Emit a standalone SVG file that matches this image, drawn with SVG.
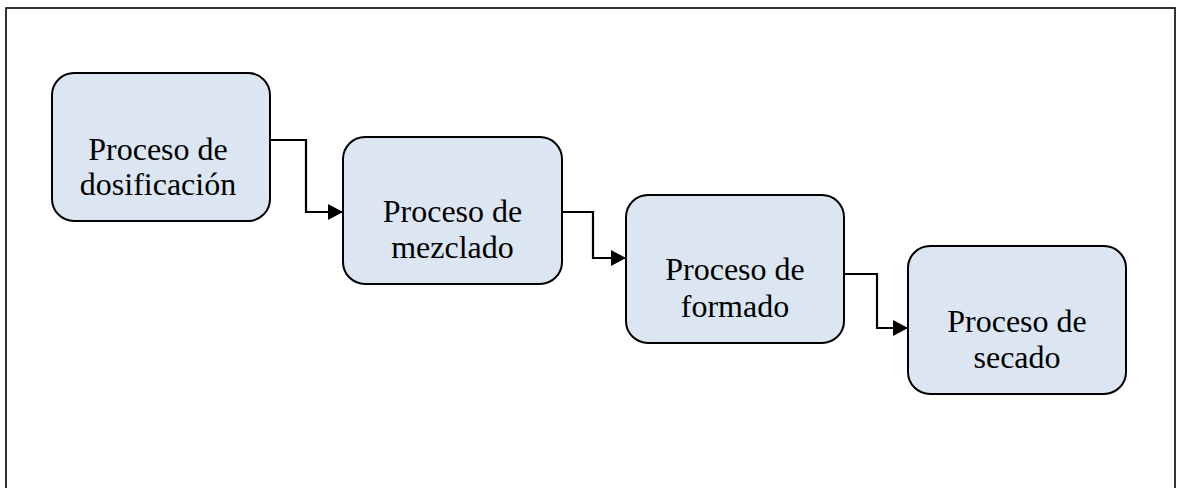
<svg xmlns="http://www.w3.org/2000/svg" width="1182" height="488" viewBox="0 0 1182 488">
<style>
.node rect{fill:#DCE6F2;stroke:#000;stroke-width:2}
.conn{fill:none;stroke:#000;stroke-width:2.2}
</style>
<defs>
<marker id="arr" markerUnits="userSpaceOnUse" markerWidth="17" markerHeight="17" refX="15" refY="8" orient="auto">
<path d="M0,0 L15,8 L0,16 Z" fill="#000"/>
</marker>
</defs>
<rect x="6" y="8" width="1169" height="490" fill="#fff" stroke="#000" stroke-width="1.6"/>
<g id="connectors">
<path class="conn" d="M270,140 H306 V212 H343" marker-end="url(#arr)"/>
<path class="conn" d="M562,212 H593 V258 H626" marker-end="url(#arr)"/>
<path class="conn" d="M844,274 H877 V328 H908" marker-end="url(#arr)"/>
</g>
<g font-family="'Liberation Serif', 'Times New Roman', Times, serif" font-size="32" fill="#000" text-anchor="middle">
<g id="n1" class="node">
<rect x="52" y="73" width="218" height="148" rx="22"/>
<text x="158" y="160">Proceso de</text>
<text x="158" y="195">dosificación</text>
</g>
<g id="n2" class="node">
<rect x="343" y="137" width="219" height="147" rx="22"/>
<text x="452.5" y="222">Proceso de</text>
<text x="452.5" y="258">mezclado</text>
</g>
<g id="n3" class="node">
<rect x="626" y="195" width="218" height="148" rx="22"/>
<text x="735" y="280">Proceso de</text>
<text x="735" y="317">formado</text>
</g>
<g id="n4" class="node">
<rect x="908" y="246" width="218" height="148" rx="22"/>
<text x="1017" y="332">Proceso de</text>
<text x="1017" y="368">secado</text>
</g>
</g>
</svg>
